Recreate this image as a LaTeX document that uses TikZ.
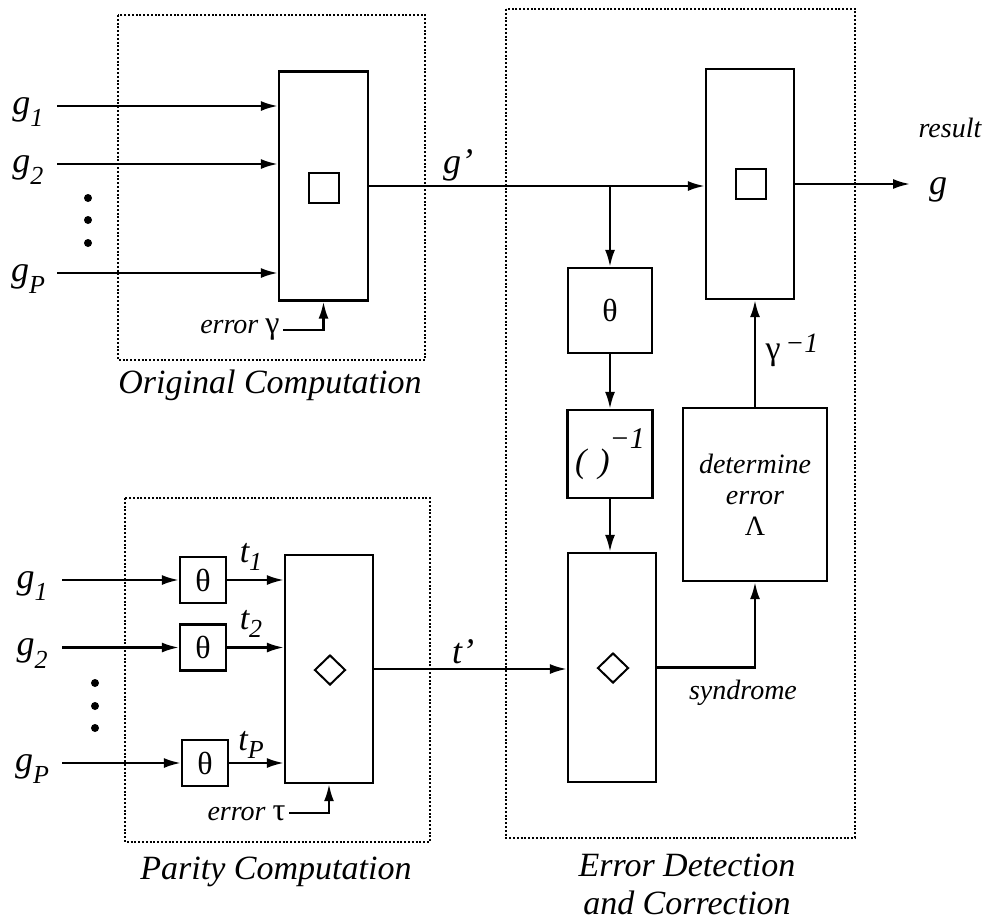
\documentclass[tikz,border=0pt]{standalone}
\usepackage{fontspec}
\setmainfont{Liberation Serif}
\usetikzlibrary{arrows.meta, shapes.geometric}

\newcommand{\lbl}[2]{{\fontsize{36}{36}\selectfont #1}\raisebox{-0.45em}{\fontsize{26}{26}\selectfont #2}}
\newcommand{\tlbl}[1]{{\fontsize{34}{34}\selectfont t}\raisebox{-0.3em}{\fontsize{26}{26}\selectfont #1}}

\begin{document}
\begin{tikzpicture}[x=1pt, y=-1pt,
    every node/.style={font=\fontsize{28}{31}\selectfont\itshape},
    blk/.style={draw, line width=2.3pt, inner sep=0},
    frame/.style={draw, line width=2pt, dash pattern=on 2pt off 1.8pt},
    sig/.style={line width=2.3pt, -{Latex[length=17pt, width=10pt]}},
    blob/.style={circle, fill, inner sep=0, minimum size=8pt}]
  \useasboundingbox (0,0) rectangle (983,922);

  % original computation
  \draw[frame] (118,15) rectangle (425,360);
  \node[blk, minimum width=89pt, minimum height=229pt] (opA) at (323.5,186) {};
  \node[blk, line width=2pt, minimum size=30pt] (sqA) at (323.5,188) {};
  \foreach \nm/\yy in {1/106, 2/164, P/273} {
    \coordinate (inA\nm) at (57,\yy);
    \node (gA\nm) at (28,\yy+6) {\lbl{g}{\nm}};
    \draw[sig] (inA\nm) -- (inA\nm -| opA.west);
  }
  \foreach \yy in {198,220,243}
    \node[blob] (dA\yy) at (88,\yy) {};
  \node[anchor=east] (errA) at (283,330) {error {\upshape\fontsize{32}{32}\selectfont γ}};
  \draw[sig] (errA.east) -| (opA.south);
  \node (tOrig) at (270,385) {\fontsize{34}{38}\selectfont Original Computation};

  % error detection and correction
  \draw[frame] (506,9) rectangle (855,838);
  \node[blk, minimum width=88pt, minimum height=230pt] (opB) at (750,184) {};
  \node[blk, line width=2pt, minimum size=30pt] (sqB) at (750.5,184) {};
  \node[blk, minimum width=84pt, minimum height=85pt,
    font=\fontsize{32}{32}\selectfont\upshape] (thB) at (610,310.5) {θ};
  \node[blk, minimum width=85pt, minimum height=88pt,
    font=\fontsize{34}{34}\selectfont\itshape] (invB) at (610,454)
    {(\hspace{12pt})\raisebox{0.7em}{\fontsize{30}{30}\selectfont −1}};
  \node[blk, minimum width=88pt, minimum height=229pt] (edB) at (612,667.5) {};
  \node[draw, shape=diamond, line width=2pt, inner sep=0,
    minimum width=31pt, minimum height=30pt] (dmB) at (613,668) {};
  \node[blk, minimum width=144pt, minimum height=173pt, align=center] (detB) at (755,494.5)
    {determine\\error\\{\upshape Λ}};

  \draw[sig] (opA.east) -- (opA.east -| opB.west);
  \node (gpr) at (458,165) {\fontsize{36}{36}\selectfont g’};
  \draw[sig] (opA.east -| thB.north) -- (thB.north);
  \draw[sig] (thB.south) -- (invB.north);
  \draw[sig] (invB.south) -- (invB.south |- edB.north);
  \draw[sig] (edB.east) -| (detB.south);
  \node (syn) at (743,693) {syndrome};
  \draw[sig] (detB.north) -- (detB.north |- opB.south);
  \node (ginv) at (792,350)
    {{\upshape\fontsize{34}{34}\selectfont γ}\raisebox{7pt}{\fontsize{28}{28}\selectfont\,−1}};
  \coordinate (gout) at (910,184);
  \draw[sig] (opB.east) -- (gout);
  \node (gres) at (938,190) {\fontsize{36}{36}\selectfont g};
  \node (res) at (950,128) {result};
  \node[align=center, font=\fontsize{34}{38}\selectfont\itshape] (tEdc) at (687,884)
    {Error Detection\\and Correction};

  % parity computation
  \draw[frame] (125,498) rectangle (430,842);
  \node[blk, minimum width=88pt, minimum height=228pt] (parB) at (329,669) {};
  \node[draw, shape=diamond, line width=2pt, inner sep=0,
    minimum width=31pt, minimum height=30pt] (dmP) at (330,670) {};
  \foreach \nm/\xx/\yy/\ty in {1/203/580/557, 2/203/647.5/624, P/205/763/745} {
    \node[blk, minimum size=46pt, font=\fontsize{32}{32}\selectfont\upshape]
      (th\nm) at (\xx,\yy) {θ};
    \coordinate (inB\nm) at (62,\yy);
    \node (gB\nm) at (32,\yy+6) {\lbl{g}{\nm}};
    \draw[sig] (inB\nm) -- (th\nm.west);
    \draw[sig] (th\nm.east) -- (th\nm.east -| parB.west);
    \node (t\nm) at (251,\ty) {\tlbl{\nm}};
  }
  \foreach \yy in {683,706,728}
    \node[blob] (dB\yy) at (95,\yy) {};
  \node[anchor=east] (errP) at (289,813) {error {\upshape\fontsize{32}{32}\selectfont τ}};
  \draw[sig] (errP.east) -| (parB.south);
  \draw[sig] (parB.east) -- (parB.east -| edB.west);
  \node (tpr) at (463,652) {\fontsize{36}{36}\selectfont t’};
  \node (tPar) at (276,872) {\fontsize{34}{38}\selectfont Parity Computation};
\end{tikzpicture}
\end{document}
